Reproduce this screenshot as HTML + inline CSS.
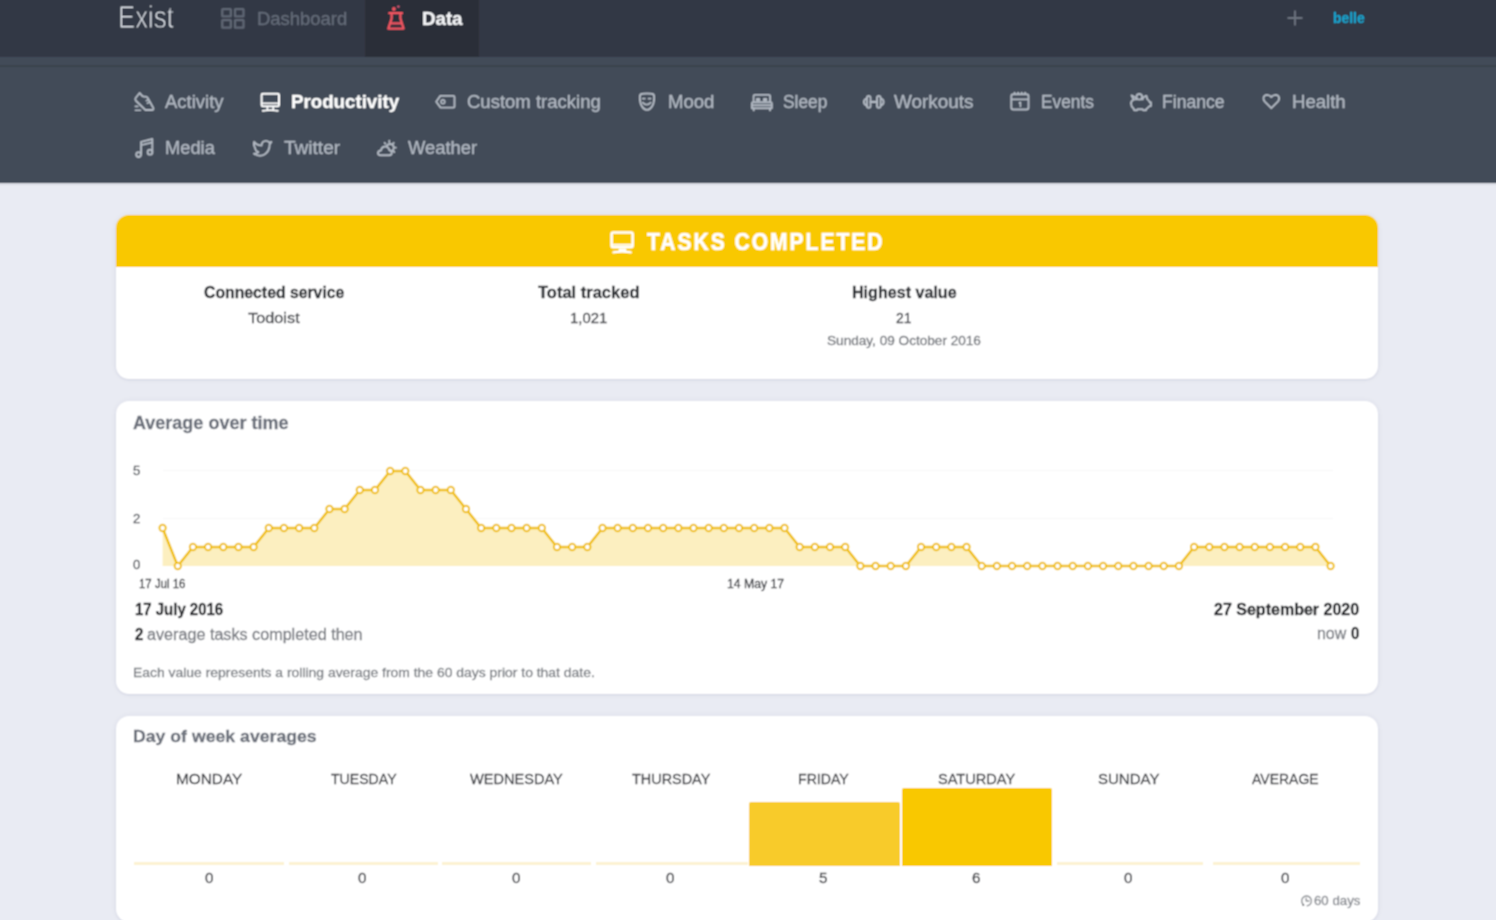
<!DOCTYPE html>
<html><head><meta charset="utf-8">
<style>
html,body{margin:0;padding:0;}
body{width:1496px;height:920px;overflow:hidden;position:relative;background:#e9ebf3;font-family:"Liberation Sans",sans-serif;}
#page{position:absolute;left:0;top:0;width:1496px;height:920px;filter:url(#soft);}
.abs{position:absolute;}
.t{position:absolute;white-space:nowrap;line-height:1;transform-origin:0 0;}
#top{position:absolute;left:-10px;top:-10px;width:1516px;height:67px;background:#323844;}
#tab{position:absolute;left:365px;top:-10px;width:114px;height:67px;background:#292e39;}
#band{position:absolute;left:-10px;top:57px;width:1516px;height:8px;background:#434c58;}
#bline{position:absolute;left:-10px;top:65px;width:1516px;height:2px;background:#3a424d;}
#sub{position:absolute;left:-10px;top:67px;width:1516px;height:115.5px;background:#434c58;box-shadow:0 1px 2px rgba(30,35,50,0.18);}
.card{position:absolute;left:116px;width:1261.5px;background:#fff;border-radius:13px;box-shadow:0 1px 2px rgba(40,40,90,0.08),0 0 6px rgba(40,40,110,0.06);}
#c1{top:215px;height:164px;overflow:hidden;}
#c1h{position:absolute;left:0;top:0;width:1262px;height:51.6px;background:#f9c800;}
#c2{top:401px;height:293px;}
#c3{top:716px;height:206px;}
.zl{position:absolute;top:862.3px;height:2.6px;background:#fcf2d2;}
.bar{position:absolute;border-radius:2px 2px 0 0;}
svg.ic{position:absolute;overflow:visible;}
</style></head><body>
<svg width="0" height="0" style="position:absolute"><filter id="soft" x="-1%" y="-1%" width="102%" height="102%"><feConvolveMatrix order="3" kernelMatrix="1 2 1 2 4 2 1 2 1" divisor="16" edgeMode="duplicate"/></filter></svg>
<div id="page">
<div style="position:absolute;left:-10px;top:-10px;width:1516px;height:940px;background:#e9ebf3"></div>
<div id="top"></div><div id="tab"></div><div id="band"></div><div id="bline"></div><div id="sub"></div>
<div class="card" id="c1"><div id="c1h"></div></div>
<div class="card" id="c2"></div>
<div class="card" id="c3"></div>
<svg class="abs" width="1496" height="920" style="left:0;top:0">
<line x1="163" y1="470.5" x2="1333" y2="470.5" stroke="#f6f6f8" stroke-width="1"/>
<line x1="163" y1="518.5" x2="1333" y2="518.5" stroke="#f6f6f8" stroke-width="1"/>
<path d="M162.60,566.0 L162.60,528.00 L177.77,566.00 L192.94,547.00 L208.11,547.00 L223.28,547.00 L238.44,547.00 L253.61,547.00 L268.78,528.00 L283.95,528.00 L299.12,528.00 L314.29,528.00 L329.46,509.00 L344.63,509.00 L359.79,490.00 L374.96,490.00 L390.13,471.00 L405.30,471.00 L420.47,490.00 L435.64,490.00 L450.81,490.00 L465.98,509.00 L481.15,528.00 L496.31,528.00 L511.48,528.00 L526.65,528.00 L541.82,528.00 L556.99,547.00 L572.16,547.00 L587.33,547.00 L602.50,528.00 L617.66,528.00 L632.83,528.00 L648.00,528.00 L663.17,528.00 L678.34,528.00 L693.51,528.00 L708.68,528.00 L723.85,528.00 L739.02,528.00 L754.18,528.00 L769.35,528.00 L784.52,528.00 L799.69,547.00 L814.86,547.00 L830.03,547.00 L845.20,547.00 L860.37,566.00 L875.54,566.00 L890.70,566.00 L905.87,566.00 L921.04,547.00 L936.21,547.00 L951.38,547.00 L966.55,547.00 L981.72,566.00 L996.89,566.00 L1012.05,566.00 L1027.22,566.00 L1042.39,566.00 L1057.56,566.00 L1072.73,566.00 L1087.90,566.00 L1103.07,566.00 L1118.24,566.00 L1133.41,566.00 L1148.57,566.00 L1163.74,566.00 L1178.91,566.00 L1194.08,547.00 L1209.25,547.00 L1224.42,547.00 L1239.59,547.00 L1254.76,547.00 L1269.92,547.00 L1285.09,547.00 L1300.26,547.00 L1315.43,547.00 L1330.60,566.00 L1330.60,566.0 Z" fill="#fcefc0"/>
<polyline points="162.60,528.00 177.77,566.00 192.94,547.00 208.11,547.00 223.28,547.00 238.44,547.00 253.61,547.00 268.78,528.00 283.95,528.00 299.12,528.00 314.29,528.00 329.46,509.00 344.63,509.00 359.79,490.00 374.96,490.00 390.13,471.00 405.30,471.00 420.47,490.00 435.64,490.00 450.81,490.00 465.98,509.00 481.15,528.00 496.31,528.00 511.48,528.00 526.65,528.00 541.82,528.00 556.99,547.00 572.16,547.00 587.33,547.00 602.50,528.00 617.66,528.00 632.83,528.00 648.00,528.00 663.17,528.00 678.34,528.00 693.51,528.00 708.68,528.00 723.85,528.00 739.02,528.00 754.18,528.00 769.35,528.00 784.52,528.00 799.69,547.00 814.86,547.00 830.03,547.00 845.20,547.00 860.37,566.00 875.54,566.00 890.70,566.00 905.87,566.00 921.04,547.00 936.21,547.00 951.38,547.00 966.55,547.00 981.72,566.00 996.89,566.00 1012.05,566.00 1027.22,566.00 1042.39,566.00 1057.56,566.00 1072.73,566.00 1087.90,566.00 1103.07,566.00 1118.24,566.00 1133.41,566.00 1148.57,566.00 1163.74,566.00 1178.91,566.00 1194.08,547.00 1209.25,547.00 1224.42,547.00 1239.59,547.00 1254.76,547.00 1269.92,547.00 1285.09,547.00 1300.26,547.00 1315.43,547.00 1330.60,566.00" fill="none" stroke="#f0c000" stroke-width="2.5" stroke-linejoin="round"/>
<g fill="#fff" stroke="#f0c000" stroke-width="1.9"><circle cx="162.60" cy="528.00" r="3.2"/><circle cx="177.77" cy="566.00" r="3.2"/><circle cx="192.94" cy="547.00" r="3.2"/><circle cx="208.11" cy="547.00" r="3.2"/><circle cx="223.28" cy="547.00" r="3.2"/><circle cx="238.44" cy="547.00" r="3.2"/><circle cx="253.61" cy="547.00" r="3.2"/><circle cx="268.78" cy="528.00" r="3.2"/><circle cx="283.95" cy="528.00" r="3.2"/><circle cx="299.12" cy="528.00" r="3.2"/><circle cx="314.29" cy="528.00" r="3.2"/><circle cx="329.46" cy="509.00" r="3.2"/><circle cx="344.63" cy="509.00" r="3.2"/><circle cx="359.79" cy="490.00" r="3.2"/><circle cx="374.96" cy="490.00" r="3.2"/><circle cx="390.13" cy="471.00" r="3.2"/><circle cx="405.30" cy="471.00" r="3.2"/><circle cx="420.47" cy="490.00" r="3.2"/><circle cx="435.64" cy="490.00" r="3.2"/><circle cx="450.81" cy="490.00" r="3.2"/><circle cx="465.98" cy="509.00" r="3.2"/><circle cx="481.15" cy="528.00" r="3.2"/><circle cx="496.31" cy="528.00" r="3.2"/><circle cx="511.48" cy="528.00" r="3.2"/><circle cx="526.65" cy="528.00" r="3.2"/><circle cx="541.82" cy="528.00" r="3.2"/><circle cx="556.99" cy="547.00" r="3.2"/><circle cx="572.16" cy="547.00" r="3.2"/><circle cx="587.33" cy="547.00" r="3.2"/><circle cx="602.50" cy="528.00" r="3.2"/><circle cx="617.66" cy="528.00" r="3.2"/><circle cx="632.83" cy="528.00" r="3.2"/><circle cx="648.00" cy="528.00" r="3.2"/><circle cx="663.17" cy="528.00" r="3.2"/><circle cx="678.34" cy="528.00" r="3.2"/><circle cx="693.51" cy="528.00" r="3.2"/><circle cx="708.68" cy="528.00" r="3.2"/><circle cx="723.85" cy="528.00" r="3.2"/><circle cx="739.02" cy="528.00" r="3.2"/><circle cx="754.18" cy="528.00" r="3.2"/><circle cx="769.35" cy="528.00" r="3.2"/><circle cx="784.52" cy="528.00" r="3.2"/><circle cx="799.69" cy="547.00" r="3.2"/><circle cx="814.86" cy="547.00" r="3.2"/><circle cx="830.03" cy="547.00" r="3.2"/><circle cx="845.20" cy="547.00" r="3.2"/><circle cx="860.37" cy="566.00" r="3.2"/><circle cx="875.54" cy="566.00" r="3.2"/><circle cx="890.70" cy="566.00" r="3.2"/><circle cx="905.87" cy="566.00" r="3.2"/><circle cx="921.04" cy="547.00" r="3.2"/><circle cx="936.21" cy="547.00" r="3.2"/><circle cx="951.38" cy="547.00" r="3.2"/><circle cx="966.55" cy="547.00" r="3.2"/><circle cx="981.72" cy="566.00" r="3.2"/><circle cx="996.89" cy="566.00" r="3.2"/><circle cx="1012.05" cy="566.00" r="3.2"/><circle cx="1027.22" cy="566.00" r="3.2"/><circle cx="1042.39" cy="566.00" r="3.2"/><circle cx="1057.56" cy="566.00" r="3.2"/><circle cx="1072.73" cy="566.00" r="3.2"/><circle cx="1087.90" cy="566.00" r="3.2"/><circle cx="1103.07" cy="566.00" r="3.2"/><circle cx="1118.24" cy="566.00" r="3.2"/><circle cx="1133.41" cy="566.00" r="3.2"/><circle cx="1148.57" cy="566.00" r="3.2"/><circle cx="1163.74" cy="566.00" r="3.2"/><circle cx="1178.91" cy="566.00" r="3.2"/><circle cx="1194.08" cy="547.00" r="3.2"/><circle cx="1209.25" cy="547.00" r="3.2"/><circle cx="1224.42" cy="547.00" r="3.2"/><circle cx="1239.59" cy="547.00" r="3.2"/><circle cx="1254.76" cy="547.00" r="3.2"/><circle cx="1269.92" cy="547.00" r="3.2"/><circle cx="1285.09" cy="547.00" r="3.2"/><circle cx="1300.26" cy="547.00" r="3.2"/><circle cx="1315.43" cy="547.00" r="3.2"/><circle cx="1330.60" cy="566.00" r="3.2"/></g>
</svg>
<div class="zl" style="left:134px;width:150px"></div>
<div class="zl" style="left:289px;width:149px"></div>
<div class="zl" style="left:442px;width:149px"></div>
<div class="zl" style="left:596px;width:152px"></div>
<div class="zl" style="left:1057px;width:146px"></div>
<div class="zl" style="left:1213px;width:147px"></div>
<div class="bar" style="left:748.6px;top:802px;width:151px;height:64px;background:#f8cb2c"></div>
<div class="bar" style="left:901.7px;top:788.4px;width:150.6px;height:77.6px;background:#f9c800"></div>
<svg class="abs" width="1496" height="920" style="left:0;top:0;overflow:visible" fill="none" stroke-linecap="round" stroke-linejoin="round">
<!-- dashboard grid -->
<g stroke="#5f6673" stroke-width="2.3" stroke-linejoin="miter">
<rect x="222.3" y="9.1" width="8.5" height="7.3" rx="0.4"/>
<rect x="235" y="9.1" width="8.5" height="7.3" rx="0.4"/>
<rect x="222.3" y="20.2" width="8.5" height="7.4" rx="0.4"/>
<rect x="235" y="20.2" width="8.5" height="7.4" rx="0.4"/>
</g>
<!-- flask -->
<g stroke="#ee5560" stroke-width="2.3">
<path d="M389.3 13.2 H402 M391.6 13.4 V18.6 L388.3 28.6 H403.6 L400.4 18.6 V13.4 M390 23.4 H402"/>
</g>
<circle cx="393.9" cy="9" r="1.9" fill="#ee5560"/>
<circle cx="398.4" cy="6.6" r="1.2" fill="#d95a7a"/>
<!-- plus -->
<path d="M1295 10.5 V25.5 M1287.5 18 H1302.5" stroke="#6a717d" stroke-width="1.9" stroke-linecap="butt"/>
<!-- subnav icons -->
<g stroke="#b0b7c1" stroke-width="1.9">
<!-- activity sneaker -->
<path d="M139.6 93 L135.6 98 Q134.8 99.3 135.9 100.7 L145.4 110 H152 Q154 110 153.2 107.8 L147.6 97.8 Q146.8 96.3 145.2 96.7 Q142.3 97.1 140.8 94.2 Z"/>
<path d="M146.2 100.8 l2.2 -1 M147.2 103.2 l2.2 -1" stroke-width="1.5"/>
<path d="M135.3 106.4 h2.6 M135.3 110.2 h5.2" stroke-width="1.6"/>
<!-- tag -->
<path d="M440.3 95.9 H453.4 Q454.5 95.9 454.5 97 V106.5 Q454.5 107.6 453.4 107.6 H440.6 L436.2 101.8 Z"/>
<circle cx="442.9" cy="101.8" r="1.9" stroke-width="1.6"/>
<!-- mood mask -->
<path d="M639.9 96.2 Q639.9 94 642.5 93.8 Q647 93.3 651.5 93.8 Q654.1 94 654.1 96.2 Q654.4 103 651.9 106.6 Q649.7 109.9 647 109.9 Q644.3 109.9 642.1 106.6 Q639.6 103 639.9 96.2 Z"/>
<path d="M642.7 98.6 h2.2 M648.5 98.6 h2.2" stroke-width="1.7"/>
<path d="M642.7 102.7 Q646.7 106.6 650.7 102.7" stroke-width="1.8"/>
<!-- bed -->
<path d="M753.6 102 V96.1 Q753.6 94.9 754.8 94.9 H768.9 Q770.1 94.9 770.1 96.1 V102"/>
<path d="M751.9 108.2 V103.4 Q751.9 102.3 753 102.3 H770.7 Q771.8 102.3 771.8 103.4 V108.2 Z"/>
<path d="M752.3 105.2 H771.4 M753.7 108.3 V110.4 M770 108.3 V110.4"/>
<rect x="756" y="98" width="4.2" height="3.6" rx="0.8" fill="#b0b7c1" stroke="none"/>
<rect x="763" y="98" width="4.2" height="3.6" rx="0.8" fill="#b0b7c1" stroke="none"/>
<!-- dumbbell -->
<rect x="866.9" y="96" width="3.6" height="11.8" rx="1.8"/>
<rect x="877" y="96" width="3.6" height="11.8" rx="1.8"/>
<path d="M866.6 98.6 Q863.9 99.2 863.9 101.9 Q863.9 104.6 866.6 105.2 M880.9 98.6 Q883.6 99.2 883.6 101.9 Q883.6 104.6 880.9 105.2"/>
<path d="M870.6 101.9 H876.9" stroke-width="2.4"/>
<!-- calendar -->
<rect x="1011.3" y="94.3" width="17.2" height="15.2" rx="2"/>
<path d="M1012 99.4 H1028"/>
<path d="M1014.6 92.6 V94 M1018.1 92.6 V94 M1021.7 92.6 V94 M1025.1 92.6 V94" stroke-width="1.8"/>
<path d="M1019.4 103 L1020.4 102.3 V106.5" stroke-width="1.7"/>
<!-- piggy -->
<circle cx="1139.3" cy="96.8" r="2.8" stroke-width="1.8"/>
<path d="M1133.6 99.6 L1131.5 95.4 L1135.6 97.5 M1142.8 98.3 Q1144.6 95.6 1146.5 96 L1147.3 99.3 Q1149 100.3 1149.8 102.3 H1150.9 V106 L1149 106.4 Q1148 108.2 1146.4 108.8 L1146 110.2 H1143.1 L1142.6 109.2 H1137.6 L1137.1 110.2 H1134.2 L1133.6 108.6 Q1131 106.6 1131 103.6 Q1131 101 1133.6 99.6 Q1135 99 1136.6 99.4 M1141.6 99.4 H1142.8"/>
<!-- heart -->
<path d="M1271.3 108.2 L1264.8 101.6 Q1263.4 100 1263.5 98.3 Q1263.6 95.1 1267.2 94.9 Q1269.6 94.9 1271.3 97.1 Q1273 94.9 1275.4 94.9 Q1279 95.1 1279.1 98.3 Q1279.2 100 1277.8 101.6 Z"/>
<!-- music -->
<path d="M141.1 153.4 V141.8 L152.3 139 V151.8 M141.1 145.2 L152.3 142.4"/>
<circle cx="138.6" cy="154.6" r="2.4"/>
<circle cx="150" cy="152.2" r="2.4"/>
<!-- twitter -->
<path d="M254.2 141.8 Q256 145.2 261.5 145.6 Q261.8 141.2 265.8 140.9 Q268 140.8 269.2 142.5 L271.4 142 L269.6 144.4 Q269.8 151 264.5 154.5 Q259.5 157.2 254 153.8 Q257 153.6 258.4 152.2 Q255 150.6 254.8 147.2 Q253.3 144.6 254.2 141.8 Z"/>
<!-- weather -->
<path d="M380.5 155.2 H389.4 Q391.8 155.2 391.8 152.8 Q391.8 150.5 389.4 150.3 Q388.4 146.2 384.7 146.5 Q381.5 147 380.9 150.5 Q378 150.9 378 153 Q378 155.2 380.5 155.2 Z"/>
<path d="M386.6 146 Q388 143.8 390.5 144 Q393.6 144.5 393.8 147.6 Q393.9 149.8 391.7 151.2"/>
<path d="M389.3 140.6 V142.2 M384.6 142.8 L385.6 143.8 M393.8 142.8 L392.8 143.8 M395.9 147.7 H394.5 M394.3 152 L393.3 151" stroke-width="1.8"/>
</g>
<!-- productivity monitor (white) -->
<g stroke="#ffffff" stroke-width="2">
<rect x="261.6" y="93.7" width="17.4" height="12.6" rx="1.4"/>
<path d="M262 103.2 H278.6" stroke-width="1.6"/>
<path d="M262.8 110.9 Q270.3 109.4 277.8 110.9" stroke-width="1.9"/>
<path d="M267.4 106.8 V109.6 M273.2 106.8 V109.6" stroke-width="1.7"/>
</g>
<!-- title monitor -->
<g stroke="#ffffff" stroke-width="2.6">
<rect x="611.6" y="232.5" width="21" height="14.6" rx="1.6"/>
<path d="M612.4 244.6 H631.8" stroke-width="1.6"/>
<path d="M613.4 252.4 Q622 250.8 630.8 252.4" stroke-width="2.2"/>
</g>
<path d="M618.8 248.4 H626.2 L626.6 251.2 H618.4 Z" fill="#ffffff"/>
<!-- clock -->
<g stroke="#8f9297" stroke-width="1.4">
<path d="M1303.2 904.5 A4.9 4.9 0 1 1 1307.3 905.8"/>
<path d="M1306.2 898.3 V901 H1309"/>
</g>
<circle cx="1303.3" cy="905" r="1.1" fill="#6f7276"/>
</svg>

<div class="t" style="left:118.2px;top:2.3px;font-size:30.58px;font-weight:normal;color:#dde1e8;letter-spacing:0px;transform:scaleX(0.844);-webkit-text-stroke:0.9px #323844;">Exist</div>
<div class="t" style="left:257.4px;top:9.2px;font-size:18.99px;font-weight:normal;color:#646b78;letter-spacing:0px;transform:scaleX(0.972);-webkit-text-stroke:0.3px #646b78;">Dashboard</div>
<div class="t" style="left:421.5px;top:9.8px;font-size:18.26px;font-weight:bold;color:#f4f5f7;letter-spacing:0px;transform:scaleX(1.024);-webkit-text-stroke:0.3px #f4f5f7;">Data</div>
<div class="t" style="left:1332.5px;top:10.4px;font-size:15.36px;font-weight:bold;color:#17a2cc;letter-spacing:0px;transform:scaleX(0.903);-webkit-text-stroke:0.3px #17a2cc;">belle</div>
<div class="t" style="left:165.3px;top:92.3px;font-size:19.28px;font-weight:normal;color:#b0b7c1;letter-spacing:0px;transform:scaleX(0.960);-webkit-text-stroke:0.3px #b0b7c1;">Activity</div>
<div class="t" style="left:291.2px;top:92.3px;font-size:19.28px;font-weight:bold;color:#ffffff;letter-spacing:0px;transform:scaleX(0.971);-webkit-text-stroke:0.3px #ffffff;">Productivity</div>
<div class="t" style="left:466.6px;top:92.3px;font-size:19.28px;font-weight:normal;color:#b0b7c1;letter-spacing:0px;transform:scaleX(0.961);-webkit-text-stroke:0.3px #b0b7c1;">Custom tracking</div>
<div class="t" style="left:668.2px;top:92.3px;font-size:19.28px;font-weight:normal;color:#b0b7c1;letter-spacing:0px;transform:scaleX(0.963);-webkit-text-stroke:0.3px #b0b7c1;">Mood</div>
<div class="t" style="left:782.6px;top:92.3px;font-size:19.28px;font-weight:normal;color:#b0b7c1;letter-spacing:0px;transform:scaleX(0.899);-webkit-text-stroke:0.3px #b0b7c1;">Sleep</div>
<div class="t" style="left:894.3px;top:92.3px;font-size:19.28px;font-weight:normal;color:#b0b7c1;letter-spacing:0px;transform:scaleX(0.981);-webkit-text-stroke:0.3px #b0b7c1;">Workouts</div>
<div class="t" style="left:1041.4px;top:92.3px;font-size:19.28px;font-weight:normal;color:#b0b7c1;letter-spacing:0px;transform:scaleX(0.898);-webkit-text-stroke:0.3px #b0b7c1;">Events</div>
<div class="t" style="left:1162.4px;top:92.3px;font-size:19.28px;font-weight:normal;color:#b0b7c1;letter-spacing:0px;transform:scaleX(0.913);-webkit-text-stroke:0.3px #b0b7c1;">Finance</div>
<div class="t" style="left:1292.3px;top:92.3px;font-size:19.28px;font-weight:normal;color:#b0b7c1;letter-spacing:0px;transform:scaleX(0.964);-webkit-text-stroke:0.3px #b0b7c1;">Health</div>
<div class="t" style="left:165.4px;top:138.3px;font-size:19.28px;font-weight:normal;color:#b0b7c1;letter-spacing:0px;transform:scaleX(0.949);-webkit-text-stroke:0.3px #b0b7c1;">Media</div>
<div class="t" style="left:283.8px;top:138.3px;font-size:19.28px;font-weight:normal;color:#b0b7c1;letter-spacing:0px;transform:scaleX(0.989);-webkit-text-stroke:0.3px #b0b7c1;">Twitter</div>
<div class="t" style="left:407.7px;top:138.3px;font-size:19.28px;font-weight:normal;color:#b0b7c1;letter-spacing:0px;transform:scaleX(0.954);-webkit-text-stroke:0.3px #b0b7c1;">Weather</div>
<div class="t" style="left:646.7px;top:231.3px;font-size:23.04px;font-weight:bold;color:#ffffff;letter-spacing:2.2px;transform:scaleX(0.912);-webkit-text-stroke:0.6px #ffffff;">TASKS COMPLETED</div>
<div class="t" style="left:203.6px;top:285.0px;font-size:15.65px;font-weight:bold;color:#2f3136;letter-spacing:0px;transform:scaleX(1.009);-webkit-text-stroke:0.3px #2f3136;">Connected service</div>
<div class="t" style="left:248.0px;top:309.9px;font-size:15.07px;font-weight:normal;color:#45474c;letter-spacing:0px;transform:scaleX(1.083);-webkit-text-stroke:0.3px #45474c;">Todoist</div>
<div class="t" style="left:538.0px;top:285.0px;font-size:15.65px;font-weight:bold;color:#2f3136;letter-spacing:0px;transform:scaleX(1.055);-webkit-text-stroke:0.3px #2f3136;">Total tracked</div>
<div class="t" style="left:570.0px;top:309.9px;font-size:15.07px;font-weight:normal;color:#45474c;letter-spacing:0px;transform:scaleX(0.992);-webkit-text-stroke:0.3px #45474c;">1,021</div>
<div class="t" style="left:852.4px;top:285.0px;font-size:15.65px;font-weight:bold;color:#2f3136;letter-spacing:0px;transform:scaleX(1.029);-webkit-text-stroke:0.3px #2f3136;">Highest value</div>
<div class="t" style="left:896.0px;top:310.2px;font-size:15.07px;font-weight:normal;color:#45474c;letter-spacing:0px;transform:scaleX(0.925);-webkit-text-stroke:0.3px #45474c;">21</div>
<div class="t" style="left:827.4px;top:333.6px;font-size:13.33px;font-weight:normal;color:#75787e;letter-spacing:0px;transform:scaleX(1.020);-webkit-text-stroke:0.3px #75787e;">Sunday, 09 October 2016</div>
<div class="t" style="left:132.6px;top:413.6px;font-size:18.41px;font-weight:bold;color:#6c717b;letter-spacing:0px;transform:scaleX(0.978);-webkit-text-stroke:0.3px #6c717b;">Average over time</div>
<div class="t" style="left:132.9px;top:464.2px;font-size:13.33px;font-weight:normal;color:#55585e;letter-spacing:0px;transform:scaleX(0.985);-webkit-text-stroke:0.3px #55585e;">5</div>
<div class="t" style="left:132.9px;top:512.1px;font-size:13.33px;font-weight:normal;color:#55585e;letter-spacing:0px;transform:scaleX(0.985);-webkit-text-stroke:0.3px #55585e;">2</div>
<div class="t" style="left:132.9px;top:558.2px;font-size:13.33px;font-weight:normal;color:#55585e;letter-spacing:0px;transform:scaleX(0.985);-webkit-text-stroke:0.3px #55585e;">0</div>
<div class="t" style="left:139.4px;top:577.8px;font-size:12.03px;font-weight:normal;color:#3d3f44;letter-spacing:0px;transform:scaleX(0.951);-webkit-text-stroke:0.3px #3d3f44;">17 Jul 16</div>
<div class="t" style="left:726.6px;top:577.8px;font-size:12.03px;font-weight:normal;color:#3d3f44;letter-spacing:0px;transform:scaleX(1.016);-webkit-text-stroke:0.3px #3d3f44;">14 May 17</div>
<div class="t" style="left:134.7px;top:602.4px;font-size:15.65px;font-weight:bold;color:#26282c;letter-spacing:0px;transform:scaleX(0.956);-webkit-text-stroke:0.3px #26282c;">17 July 2016</div>
<div class="t" style="left:134.7px;top:626.6px;font-size:15.80px;font-weight:bold;color:#26282c;letter-spacing:0px;transform:scaleX(0.946);-webkit-text-stroke:0.3px #26282c;">2</div>
<div class="t" style="left:147.0px;top:626.6px;font-size:15.80px;font-weight:normal;color:#7a7d83;letter-spacing:0px;transform:scaleX(1.023);-webkit-text-stroke:0.3px #7a7d83;">average tasks completed then</div>
<div class="t" style="left:1214.4px;top:602.2px;font-size:15.80px;font-weight:bold;color:#26282c;letter-spacing:0px;transform:scaleX(1.014);-webkit-text-stroke:0.3px #26282c;">27 September 2020</div>
<div class="t" style="left:1317.3px;top:625.7px;font-size:15.94px;font-weight:normal;color:#7a7d83;letter-spacing:0px;transform:scaleX(0.999);-webkit-text-stroke:0.3px #7a7d83;">now</div>
<div class="t" style="left:1351.0px;top:625.9px;font-size:15.80px;font-weight:bold;color:#26282c;letter-spacing:0px;transform:scaleX(0.957);-webkit-text-stroke:0.3px #26282c;">0</div>
<div class="t" style="left:133.4px;top:666.3px;font-size:13.33px;font-weight:normal;color:#7d8086;letter-spacing:0px;transform:scaleX(1.044);-webkit-text-stroke:0.3px #7d8086;">Each value represents a rolling average from the 60 days prior to that date.</div>
<div class="t" style="left:133.4px;top:727.6px;font-size:17.39px;font-weight:bold;color:#6c717b;letter-spacing:0px;transform:scaleX(1.017);-webkit-text-stroke:0.3px #6c717b;">Day of week averages</div>
<div class="t" style="left:176.1px;top:770.7px;font-size:15.51px;font-weight:normal;color:#404247;letter-spacing:0px;transform:scaleX(0.990);-webkit-text-stroke:0.3px #404247;">MONDAY</div>
<div class="t" style="left:330.5px;top:770.7px;font-size:15.51px;font-weight:normal;color:#404247;letter-spacing:0px;transform:scaleX(0.910);-webkit-text-stroke:0.3px #404247;">TUESDAY</div>
<div class="t" style="left:470.1px;top:770.7px;font-size:15.51px;font-weight:normal;color:#404247;letter-spacing:0px;transform:scaleX(0.939);-webkit-text-stroke:0.3px #404247;">WEDNESDAY</div>
<div class="t" style="left:631.5px;top:770.7px;font-size:15.51px;font-weight:normal;color:#404247;letter-spacing:0px;transform:scaleX(0.931);-webkit-text-stroke:0.3px #404247;">THURSDAY</div>
<div class="t" style="left:798.4px;top:770.7px;font-size:15.51px;font-weight:normal;color:#404247;letter-spacing:0px;transform:scaleX(0.912);-webkit-text-stroke:0.3px #404247;">FRIDAY</div>
<div class="t" style="left:938.4px;top:770.7px;font-size:15.51px;font-weight:normal;color:#404247;letter-spacing:0px;transform:scaleX(0.940);-webkit-text-stroke:0.3px #404247;">SATURDAY</div>
<div class="t" style="left:1098.4px;top:770.7px;font-size:15.51px;font-weight:normal;color:#404247;letter-spacing:0px;transform:scaleX(0.968);-webkit-text-stroke:0.3px #404247;">SUNDAY</div>
<div class="t" style="left:1252.4px;top:770.7px;font-size:15.51px;font-weight:normal;color:#404247;letter-spacing:0px;transform:scaleX(0.903);-webkit-text-stroke:0.3px #404247;">AVERAGE</div>
<div class="t" style="left:204.8px;top:870.5px;font-size:14.78px;font-weight:normal;color:#404247;letter-spacing:0px;transform:scaleX(1.023);-webkit-text-stroke:0.3px #404247;">0</div>
<div class="t" style="left:358.4px;top:870.5px;font-size:14.78px;font-weight:normal;color:#404247;letter-spacing:0px;transform:scaleX(1.023);-webkit-text-stroke:0.3px #404247;">0</div>
<div class="t" style="left:512.4px;top:870.5px;font-size:14.78px;font-weight:normal;color:#404247;letter-spacing:0px;transform:scaleX(1.023);-webkit-text-stroke:0.3px #404247;">0</div>
<div class="t" style="left:665.5px;top:870.5px;font-size:14.78px;font-weight:normal;color:#404247;letter-spacing:0px;transform:scaleX(1.023);-webkit-text-stroke:0.3px #404247;">0</div>
<div class="t" style="left:819.2px;top:870.5px;font-size:14.78px;font-weight:normal;color:#404247;letter-spacing:0px;transform:scaleX(1.023);-webkit-text-stroke:0.3px #404247;">5</div>
<div class="t" style="left:972.4px;top:870.5px;font-size:14.78px;font-weight:normal;color:#404247;letter-spacing:0px;transform:scaleX(1.023);-webkit-text-stroke:0.3px #404247;">6</div>
<div class="t" style="left:1124.2px;top:870.5px;font-size:14.78px;font-weight:normal;color:#404247;letter-spacing:0px;transform:scaleX(1.023);-webkit-text-stroke:0.3px #404247;">0</div>
<div class="t" style="left:1281.3px;top:870.5px;font-size:14.78px;font-weight:normal;color:#404247;letter-spacing:0px;transform:scaleX(1.023);-webkit-text-stroke:0.3px #404247;">0</div>
<div class="t" style="left:1314.3px;top:895.0px;font-size:12.17px;font-weight:normal;color:#8a8d93;letter-spacing:0px;transform:scaleX(1.090);-webkit-text-stroke:0.3px #8a8d93;">60 days</div>
</div>
</body></html>
